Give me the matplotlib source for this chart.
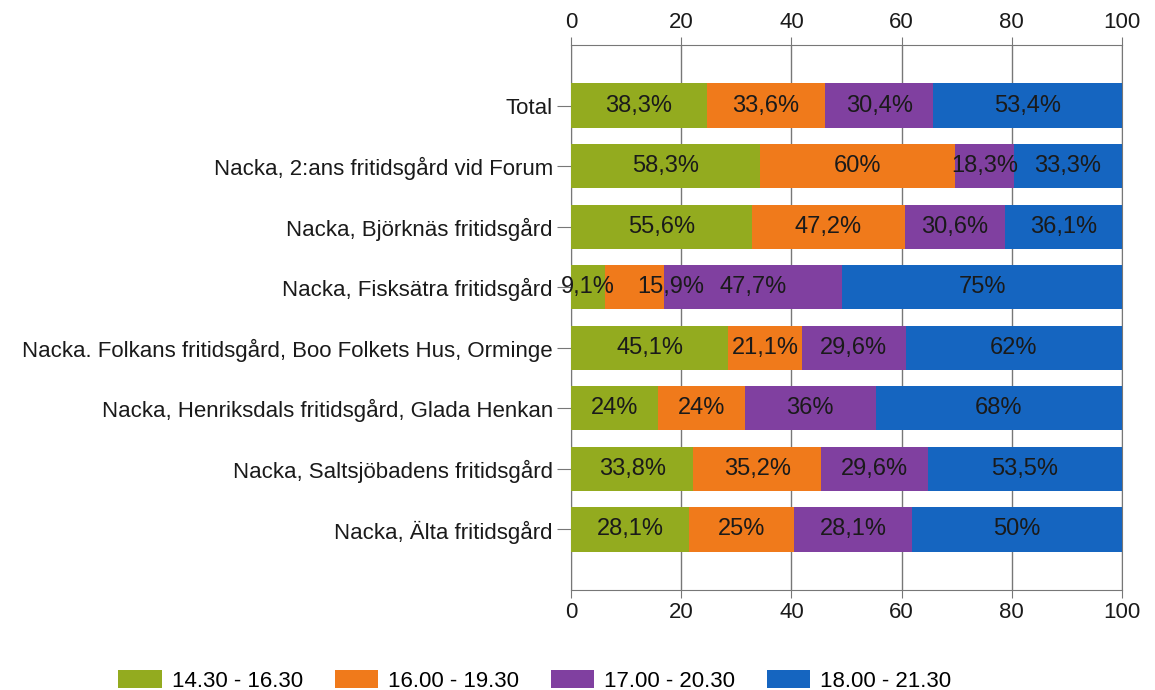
import numpy as np
import matplotlib.pyplot as plt

plt.rcParams['font.family'] = ['Liberation Sans', 'DejaVu Sans']

categories = ["Total",
              "Nacka, 2:ans fritidsgård vid Forum",
              "Nacka, Björknäs fritidsgård",
              "Nacka, Fisksätra fritidsgård",
              "Nacka. Folkans fritidsgård, Boo Folkets Hus, Orminge",
              "Nacka, Henriksdals fritidsgård, Glada Henkan",
              "Nacka, Saltsjöbadens fritidsgård",
              "Nacka, Älta fritidsgård"]
series = ["14.30 - 16.30", "16.00 - 19.30", "17.00 - 20.30", "18.00 - 21.30"]
s1 = [38.3, 58.3, 55.6, 9.1, 45.1, 24, 33.8, 28.1]
s2 = [33.6, 60, 47.2, 15.9, 21.1, 24, 35.2, 25]
s3 = [30.4, 18.3, 30.6, 47.7, 29.6, 36, 29.6, 28.1]
s4 = [53.4, 33.3, 36.1, 75, 62, 68, 53.5, 50]
colors = ["#93ab1f", "#f07a1b", "#8040a0", "#1565c0"]

data = np.array([s1, s2, s3, s4])
totals = data.sum(axis=0)
norm = data / totals * 100

fig = plt.figure(figsize=(11.55, 6.9), dpi=100)
ax = fig.add_axes([571/1155, 1-590/690, (1122-571)/1155, (590-45)/690])

# narrow segment: label pushed right so it does not collide
nudge = {(1, 3): 6.5}

y = np.arange(len(categories))
left = np.zeros(len(categories))
for i in range(4):
    bars = ax.barh(y, norm[i], left=left, height=0.73, color=colors[i], label=series[i], zorder=3)
    labels = [("%g" % v).replace(".", ",") + "%" for v in data[i]]
    for j, b in enumerate(bars):
        xc = left[j] + norm[i][j] / 2 + nudge.get((i, j), 0)
        ax.text(xc, y[j], labels[j], ha='center', va='center',
                fontsize=17, color='#1a1a1a', zorder=4)
    left += norm[i]

ax.set_xlim(0, 100)
ax.set_ylim(len(categories), -1)
ax.set_yticks(y)
ax.set_yticklabels(categories, fontsize=16, color='#1a1a1a')
ax.set_xticks([0, 20, 40, 60, 80, 100])
ax.tick_params(axis='x', labeltop=True, top=True, labelsize=16, length=6, color='#777777',
               labelcolor='#1a1a1a', pad=3)
ax.tick_params(axis='y', length=10, color='#777777', pad=3)
ax.grid(axis='x', color='#777777', linewidth=1, zorder=0)
for s in ['top', 'bottom', 'left', 'right']:
    ax.spines[s].set_color('#777777')

leg = fig.legend(loc='center', bbox_to_anchor=(0.463, 0.013), ncol=4, frameon=False,
                 fontsize=16, handlelength=1.94, handleheight=0.85, handletextpad=0.45,
                 columnspacing=1.44)

fig.savefig("out.png", dpi=100)
